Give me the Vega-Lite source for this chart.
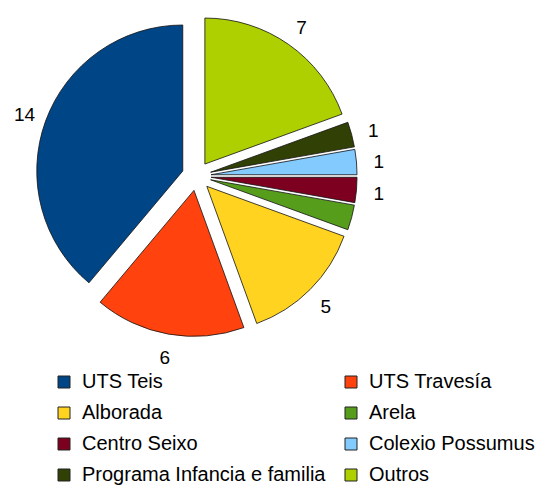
{
  "$schema": "https://vega.github.io/schema/vega-lite/v6.json",
  "width": 393,
  "height": 352,
  "padding": 0,
  "background": "white",
  "config": {"view": {"stroke": null}, "font": "Liberation Sans"},
  "data": {
    "values": [
      {"cat": "UTS Teis", "value": 14, "idx": 1},
      {"cat": "UTS Travesía", "value": 6, "idx": 2},
      {"cat": "Alborada", "value": 5, "idx": 3},
      {"cat": "Arela", "value": 1, "idx": 4},
      {"cat": "Centro Seixo", "value": 1, "idx": 5},
      {"cat": "Colexio Possumus", "value": 1, "idx": 6},
      {"cat": "Programa Infancia e familia", "value": 1, "idx": 7},
      {"cat": "Outros", "value": 7, "idx": 8}
    ]
  },
  "encoding": {
    "theta": {"field": "value", "type": "quantitative", "stack": true},
    "order": {"field": "idx", "type": "quantitative", "sort": "descending"}
  },
  "layer": [
    {
      "mark": {
        "type": "arc",
        "outerRadius": 146,
        "stroke": "#111111",
        "strokeWidth": 0.8,
        "xOffset": {"expr": "14.6*sin(scale('theta', (datum.value_start+datum.value_end)/2))"},
        "yOffset": {"expr": "-14.6*cos(scale('theta', (datum.value_start+datum.value_end)/2))"}
      },
      "encoding": {
        "color": {
          "field": "cat",
          "type": "nominal",
          "sort": ["UTS Teis", "UTS Travesía", "Alborada", "Arela", "Centro Seixo", "Colexio Possumus", "Programa Infancia e familia", "Outros"],
          "scale": {
            "domain": ["UTS Teis", "UTS Travesía", "Alborada", "Arela", "Centro Seixo", "Colexio Possumus", "Programa Infancia e familia", "Outros"],
            "range": ["#004586", "#ff420e", "#ffd320", "#579d1c", "#7e0021", "#83caff", "#314004", "#aecf00"]
          },
          "legend": {
            "orient": "none",
            "legendX": 54,
            "legendY": 372,
            "direction": "horizontal",
            "columns": 2,
            "title": null,
            "symbolType": "square",
            "symbolSize": 144,
            "symbolStrokeColor": "#222222",
            "symbolStrokeWidth": 1,
            "labelFontSize": 20,
            "labelFont": "Liberation Sans",
            "labelColor": "#000000",
            "labelOffset": 8,
            "rowPadding": 11,
            "columnPadding": 15,
            "labelLimit": 400
          }
        }
      }
    },
    {
      "mark": {"type": "text", "radius": 183, "fontSize": 19, "font": "Liberation Sans", "align": "center", "baseline": "middle", "dy": 2},
      "encoding": {
        "detail": {"field": "cat", "type": "nominal"},
        "color": {"value": "#000000"},
        "text": {
          "condition": {"test": "datum.cat === 'Arela'", "value": ""},
          "field": "value",
          "type": "quantitative"
        }
      }
    }
  ]
}
